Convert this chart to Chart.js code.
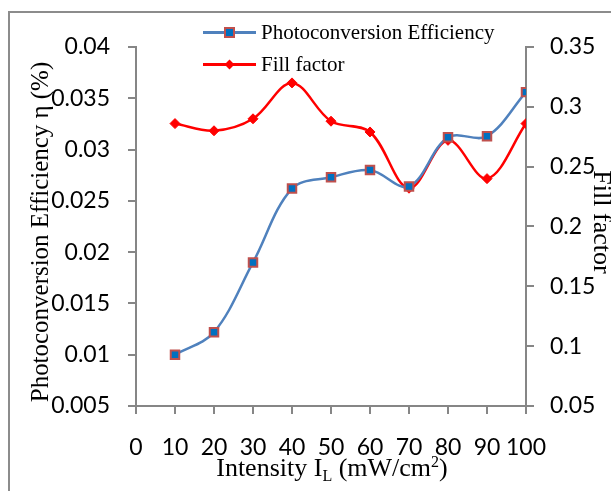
<!DOCTYPE html>
<html>
<head>
<meta charset="utf-8">
<script src="https://cdn.jsdelivr.net/npm/chart.js@4"></script>
<style>
  body { margin: 0; background: #fff; }
  #wrap { position: relative; width: 611px; height: 491px; overflow: hidden; }
  #frame { position: absolute; left: 8px; top: 11px; width: 700px; height: 600px;
           border-left: 2px solid #8c8c8c; border-top: 2px solid #8c8c8c; pointer-events: none; }
  .title { position: absolute; font-family: "Liberation Serif", serif; font-size: 26px; line-height: 26px;
           color: #000; white-space: nowrap; transform-origin: center; }
  .title sub, .title sup { font-size: 16px; vertical-align: baseline; position: relative; }
  .title sub { top: 0.3em; }
  .title sup { top: -0.55em; }
  .legend { position: absolute; left: 203px; font-family: "Liberation Serif", serif; font-size: 21px; color: #000; }
  .row { position: relative; height: 32px; }
  .row .line { position: absolute; left: 0; top: 50%; width: 53px; height: 3px; margin-top: -1.5px; }
  .row .mark { position: absolute; left: 26px; top: 50%; }
  .row span { position: absolute; left: 58px; top: 50%; transform: translateY(-50%); white-space: nowrap; }
</style>
</head>
<body>
<div id="wrap">
  <canvas id="chart" width="611" height="491"></canvas>
  <div id="frame"></div>
  <div class="legend" style="top:16px;">
    <div class="row">
      <div class="line" style="background:#4F81BD;"></div>
      <div class="mark" style="width:7px;height:7px;margin:-5.5px 0 0 -5.5px;background:#0070C0;border:2px solid #C0504D;"></div>
      <span>Photoconversion Efficiency</span>
    </div>
    <div class="row">
      <div class="line" style="background:#FF0000;"></div>
      <div class="mark" style="width:7px;height:7px;margin:-3.5px 0 0 -3.5px;background:#FF0000;transform:rotate(45deg);"></div>
      <span>Fill factor</span>
    </div>
  </div>
  <div class="title" style="left:40px;top:232px;transform:translate(-50%,-50%) rotate(-90deg) scaleX(0.96);">Photoconversion Efficiency η (%)</div>
  <div class="title" style="left:602px;top:222px;transform:translate(-50%,-50%) rotate(90deg);">Fill factor</div>
  <div class="title" style="left:332px;top:469px;transform:translate(-50%,-50%);">Intensity I<sub>L</sub> (mW/cm<sup>2</sup>)</div>
</div>
<script>
// intensity (mW/cm2)
const intensity = [10, 20, 30, 40, 50, 60, 70, 80, 90, 100];
// photoconversion efficiency (%) - left axis
const efficiency = [0.0100, 0.0122, 0.0190, 0.0262, 0.0273, 0.0280, 0.0264, 0.0312, 0.0313, 0.0356];
// fill factor - right axis
const fillFactor = [0.286, 0.280, 0.290, 0.320, 0.288, 0.279, 0.232, 0.272, 0.240, 0.286];

const axisGray = '#868686';
const tickFont = { family: 'Lato', size: 23 };

function toPoints(vals) {
  return intensity.map((x, i) => ({ x: x, y: vals[i] }));
}

function cleanNum(v) {
  return String(Number(v.toFixed(3)));
}

const ctx = document.getElementById('chart').getContext('2d');
new Chart(ctx, {
  type: 'line',
  data: {
    datasets: [{
      label: 'Photoconversion Efficiency',
      data: toPoints(efficiency),
      yAxisID: 'y',
      borderColor: '#4F81BD',
      borderWidth: 2.5,
      tension: 0.35,
      pointStyle: 'rect',
      pointRadius: 6,
      pointBackgroundColor: '#0070C0',
      pointBorderColor: '#C0504D',
      pointBorderWidth: 2
    }, {
      label: 'Fill factor',
      data: toPoints(fillFactor),
      yAxisID: 'y1',
      borderColor: '#FF0000',
      borderWidth: 2.5,
      tension: 0.35,
      pointStyle: 'rectRot',
      pointRadius: 5,
      pointBackgroundColor: '#FF0000',
      pointBorderColor: '#FF0000',
      pointBorderWidth: 1
    }]
  },
  options: {
    responsive: false,
    animation: false,
    layout: { padding: { top: 47, left: 0, right: 0, bottom: 0 } },
    plugins: { legend: { display: false }, tooltip: { enabled: false } },
    scales: {
      x: {
        type: 'linear',
        min: 0, max: 100,
        afterFit: function(s) { s.height = 85; },
        border: { color: axisGray, width: 2 },
        grid: { drawOnChartArea: false, tickLength: 8, color: axisGray, lineWidth: 2 },
        ticks: { stepSize: 10, color: '#000', font: tickFont, padding: 20, maxRotation: 0, autoSkip: false }
      },
      y: {
        position: 'left',
        min: 0.005, max: 0.04,
        afterFit: function(s) { s.width = 136; },
        border: { color: axisGray, width: 2 },
        grid: { drawOnChartArea: false, tickLength: 8, color: axisGray, lineWidth: 2 },
        ticks: { stepSize: 0.005, color: '#000', font: tickFont, padding: 18, callback: cleanNum }
      },
      y1: {
        position: 'right',
        min: 0.05, max: 0.35,
        afterFit: function(s) { s.width = 85; },
        border: { color: axisGray, width: 2 },
        grid: { drawOnChartArea: false, tickLength: 8, color: axisGray, lineWidth: 2 },
        ticks: { stepSize: 0.05, color: '#000', font: tickFont, padding: 16, callback: cleanNum }
      }
    }
  }
});
</script>
</body>
</html>
